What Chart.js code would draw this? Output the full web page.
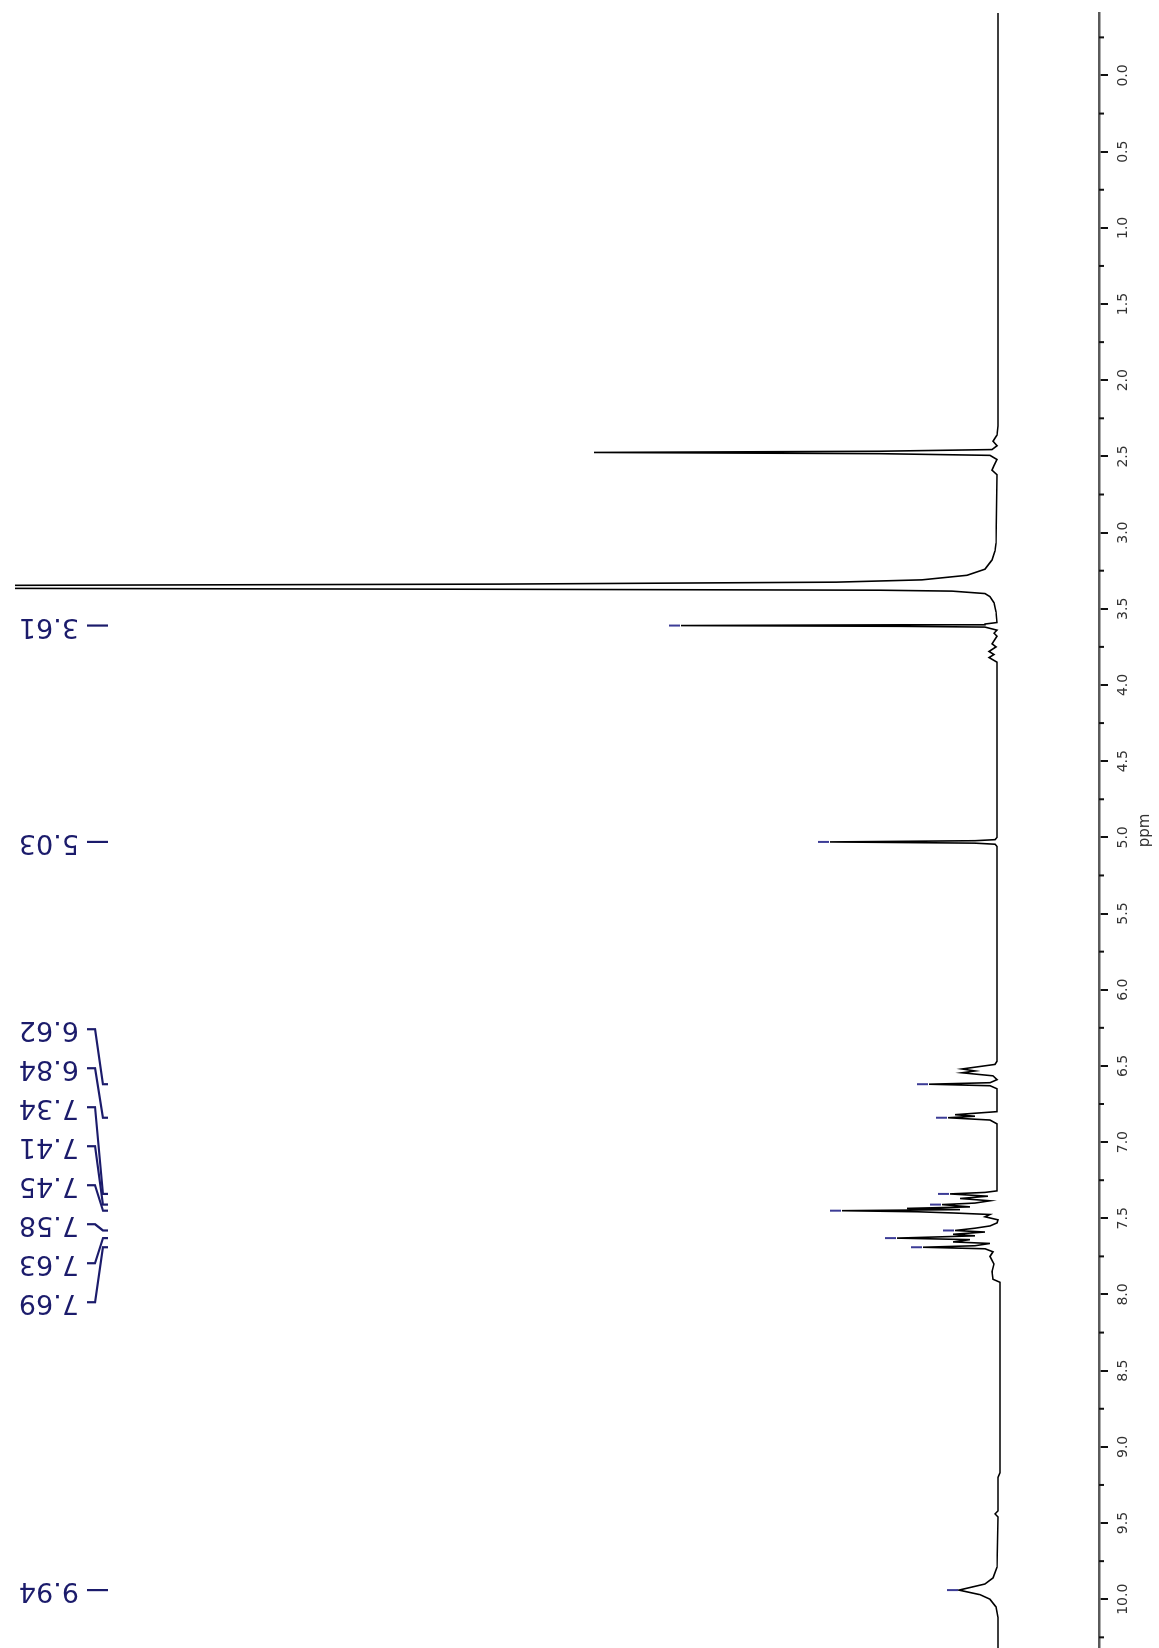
<!DOCTYPE html>
<html>
<head>
<meta charset="utf-8">
<title>1H NMR spectrum</title>
<script src="https://cdn.jsdelivr.net/npm/chart.js"></script>
<style>
  html, body { margin: 0; padding: 0; background: #fff; }
  #wrap { position: relative; width: 1159px; height: 1648px; overflow: hidden; background: #fff; }
  /* the spectrum is drawn the usual way (ppm along the bottom) and then turned a quarter turn */
  #nmr { position: absolute; left: 0; top: 0; transform-origin: 0 0; transform: translateY(1648px) rotate(-90deg); }
</style>
</head>
<body>
<div id="wrap"><canvas id="nmr" width="1648" height="1159"></canvas></div>
<script>
// axis range (ppm) and ticks
const ppmMin = -0.41;
const ppmMax = 10.32;
const ppmTicks = [0.0, 0.5, 1.0, 1.5, 2.0, 2.5, 3.0, 3.5, 4.0, 4.5, 5.0,
                  5.5, 6.0, 6.5, 7.0, 7.5, 8.0, 8.5, 9.0, 9.5, 10.0];
const ppmMinorTicks = [-0.25, 0.25, 0.75, 1.25, 1.75, 2.25, 2.75, 3.25, 3.75, 4.25, 4.75,
                       5.25, 5.75, 6.25, 6.75, 7.25, 7.75, 8.25, 8.75, 9.25, 9.75, 10.25];

// picked peaks (labelled)
const peakLabels = [3.61, 5.03, 6.62, 6.84, 7.34, 7.41, 7.45, 7.58, 7.63, 7.69, 9.94];

// spectrum trace: [ppm, intensity]
const spectrum = [
  [-0.41, -0.1], [1.80, -0.1], [2.30, -0.1], [2.36, 0.0], [2.40, 0.4], [2.43, 0.0],
  [2.455, 0.5], [2.466, 11.7], [2.474, 40.3], [2.482, 11.7], [2.493, 0.7], [2.52, 0.0],
  [2.56, 0.3], [2.59, 0.5], [2.62, 0.0],
  [3.07, 0.1], [3.12, 0.2], [3.18, 0.5], [3.24, 1.2], [3.28, 3.0], [3.31, 7.5], [3.325, 16.0],
  [3.338, 49.7], [3.346, 98.1], [3.356, 300], [3.366, 98.1], [3.372, 49.7], [3.378, 11.7],
  [3.384, 4.5], [3.40, 1.2], [3.42, 0.7], [3.46, 0.3], [3.52, 0.1], [3.59, 0.0],
  [3.60, 1.2], [3.605, 9.7], [3.61, 31.6], [3.615, 9.7], [3.62, 1.2], [3.64, 0.0],
  [3.66, 0.3], [3.68, 0.0], [3.73, 0.5], [3.75, 0.1], [3.78, 0.8], [3.80, 0.3], [3.82, 0.8], [3.85, 0.0],
  [5.00, 0.0], [5.015, 0.2], [5.022, 2.2], [5.03, 16.7], [5.038, 2.2], [5.045, 0.2], [5.06, 0.0],
  [6.47, 0.0], [6.49, 0.2], [6.52, 3.5], [6.533, 2.2], [6.545, 3.5], [6.565, 0.4], [6.59, 0.0],
  [6.61, 0.7], [6.62, 6.8], [6.63, 0.7], [6.65, 0.0],
  [6.80, 0.0], [6.82, 4.2], [6.83, 2.2], [6.84, 4.9], [6.855, 0.7], [6.88, 0.0],
  [7.32, 0.0], [7.33, 1.2], [7.34, 4.7], [7.355, 0.9], [7.37, 3.7], [7.385, 0.7], [7.40, 2.2],
  [7.41, 5.5], [7.425, 2.7], [7.435, 9.0], [7.443, 3.7], [7.45, 15.5], [7.457, 8.0], [7.465, 4.4],
  [7.475, 0.7], [7.49, 1.2], [7.51, -0.1], [7.53, 0.0], [7.55, 0.7], [7.565, 2.2], [7.58, 4.2],
  [7.59, 1.2], [7.605, 4.4], [7.615, 2.2], [7.63, 10.0], [7.64, 2.7], [7.655, 4.4], [7.665, 0.7],
  [7.68, 2.2], [7.69, 7.4], [7.70, 1.2], [7.72, 0.4], [7.75, 0.7], [7.80, 0.3], [7.85, 0.5],
  [7.90, 0.4], [7.92, -0.3], [9.17, -0.3], [9.20, -0.1], [9.42, -0.1], [9.44, 0.2], [9.46, -0.1],
  [9.79, 0.0], [9.86, 0.4], [9.90, 1.2], [9.94, 3.8], [9.97, 1.7], [10.00, 0.7], [10.05, 0.1],
  [10.12, -0.1], [10.32, -0.1]
];

const LABEL_COLOR = '#1b1b6b';
const MARK_COLOR = '#3c3c96';
const LABEL_GAP = 39;

// spread crowded labels so they don't overlap (like the peak picking labels)
function spreadLabels(xs, gap) {
  let groups = xs.map((x) => ({ items: [x] }));
  const center = g => (Math.min(...g.items) + Math.max(...g.items)) / 2;
  let merged = true;
  while (merged) {
    merged = false;
    for (let i = 0; i < groups.length - 1; i++) {
      const a = groups[i], b = groups[i + 1];
      const aEnd = center(a) + (a.items.length - 1) * gap / 2;
      const bStart = center(b) - (b.items.length - 1) * gap / 2;
      if (bStart - aEnd < gap) {
        groups.splice(i, 2, { items: a.items.concat(b.items) });
        merged = true;
        break;
      }
    }
  }
  const out = [];
  groups.forEach(g => {
    const c = center(g), n = g.items.length;
    g.items.forEach((x, k) => out.push(c + (k - (n - 1) / 2) * gap));
  });
  return out;
}

const nmrDecorations = {
  id: 'nmrDecorations',
  afterDraw(chart) {
    const ctx = chart.ctx;
    const xs = chart.scales.x;
    const ys = chart.scales.y;

    // minor ticks
    ctx.save();
    ctx.strokeStyle = '#111';
    ctx.lineWidth = 2;
    ppmMinorTicks.forEach(v => {
      const px = xs.getPixelForValue(v);
      ctx.beginPath();
      ctx.moveTo(px, xs.top);
      ctx.lineTo(px, xs.top + 5);
      ctx.stroke();
    });
    ctx.restore();

    // peak markers at the tips
    const peaks = peakLabels.map(p => {
      const pt = spectrum.find(s => s[0] === p);
      return { ppm: p, x: xs.getPixelForValue(p), tip: ys.getPixelForValue(pt ? pt[1] : 0) };
    }).sort((a, b) => a.x - b.x);

    ctx.save();
    ctx.strokeStyle = MARK_COLOR;
    ctx.lineWidth = 2;
    peaks.forEach(p => {
      ctx.beginPath();
      ctx.moveTo(p.x, p.tip - 12);
      ctx.lineTo(p.x, p.tip - 1);
      ctx.stroke();
    });
    ctx.restore();

    // labels + connectors
    const slots = spreadLabels(peaks.map(p => p.x), LABEL_GAP);
    ctx.save();
    ctx.strokeStyle = LABEL_COLOR;
    ctx.fillStyle = LABEL_COLOR;
    ctx.lineWidth = 2.2;
    ctx.font = '27px "DejaVu Sans"';
    peaks.forEach((p, i) => {
      const lx = slots[i];
      ctx.beginPath();
      ctx.moveTo(lx, 87);
      ctx.lineTo(lx, 95);
      ctx.lineTo(p.x, 103);
      ctx.lineTo(p.x, 108);
      ctx.stroke();

      ctx.save();
      ctx.translate(lx, 79);
      ctx.rotate(-Math.PI / 2);
      ctx.textAlign = 'left';
      ctx.textBaseline = 'middle';
      ctx.fillText(p.ppm.toFixed(2), 0, 0);
      ctx.restore();
    });
    ctx.restore();
  }
};

const canvas = document.getElementById('nmr');
new Chart(canvas, {
  type: 'scatter',
  data: {
    datasets: [{
      data: spectrum.map(s => ({ x: s[0], y: s[1] })),
      showLine: true,
      borderColor: '#000',
      borderWidth: 1.6,
      pointRadius: 0,
      tension: 0
    }]
  },
  options: {
    responsive: false,
    animation: false,
    devicePixelRatio: 1,
    layout: { padding: { top: 15, right: 13, bottom: 0, left: 0 } },
    plugins: { legend: { display: false }, tooltip: { enabled: false } },
    scales: {
      x: {
        type: 'linear',
        position: 'bottom',
        reverse: true,
        min: ppmMin,
        max: ppmMax,
        afterBuildTicks: scale => { scale.ticks = ppmTicks.map(v => ({ value: v })); },
        afterFit: scale => { scale.height = 60; },
        ticks: {
          autoSkip: false,
          maxRotation: 0,
          padding: 7,
          color: '#333',
          font: { family: 'DejaVu Sans', size: 14 },
          callback: v => Number(v).toFixed(1)
        },
        grid: { drawOnChartArea: false, drawTicks: true, tickLength: 9, color: '#111', lineWidth: 2 },
        border: { display: true, color: '#5a5a5a', width: 2.5 },
        title: {
          display: true,
          text: 'ppm',
          color: '#333',
          font: { family: 'DejaVu Sans', size: 15 },
          padding: { top: 0, bottom: 5 }
        }
      },
      y: {
        type: 'linear',
        display: false,
        min: -10.2,
        max: 98.2
      }
    }
  },
  plugins: [nmrDecorations]
});
</script>
</body>
</html>
